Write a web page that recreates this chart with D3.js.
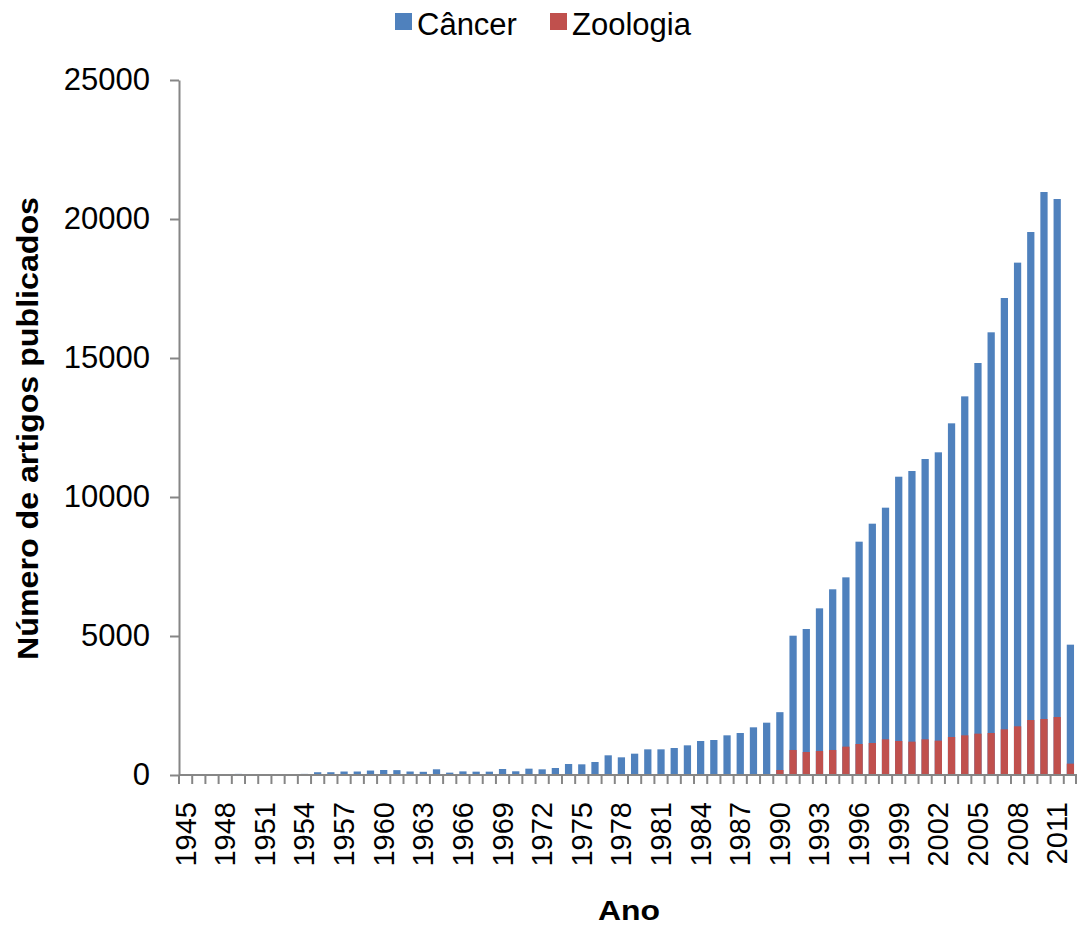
<!DOCTYPE html>
<html>
<head>
<meta charset="utf-8">
<script src="https://cdn.jsdelivr.net/npm/d3@7"></script>
<style>
  body { margin: 0; background: #fff; }
  text { font-family: "Liberation Sans", Arial, sans-serif; fill: #000; }
</style>
</head>
<body>
<script>
const width = 1077;
const height = 927;

const years = d3.range(1945, 2013);
const cancer = [
  0, 0, 0, 0, 40, 0, 30, 30, 30, 40,
  100, 100, 125, 125, 160, 180, 175, 125, 115, 205,
  85, 130, 120, 120, 216, 133, 228, 204, 252, 396,
  384, 468, 708, 636, 767, 923, 923, 971, 1067, 1223,
  1259, 1427, 1511, 1715, 1882, 2260, 5011, 5252, 5995, 6680,
  7110, 8393, 9040, 9616, 10730, 10935, 11367, 11607, 12650, 13620,
  14820, 15924, 17158, 18430, 19532, 20971, 20719, 4688
];
const zoologia = [
  0, 0, 0, 0, 0, 0, 0, 0, 0, 0,
  0, 0, 0, 0, 0, 0, 0, 0, 0, 0,
  0, 0, 0, 0, 0, 0, 0, 0, 0, 0,
  0, 0, 30, 30, 30, 30, 30, 30, 30, 30,
  30, 30, 30, 30, 30, 180, 900, 827, 863, 900,
  1020, 1115, 1151, 1283, 1223, 1199, 1283, 1235, 1367, 1427,
  1487, 1511, 1643, 1751, 1978, 2014, 2086, 408
];
const yTicks = [0, 5000, 10000, 15000, 20000, 25000];
const seriesNames = ['Câncer', 'Zoologia'];
const colors = ['#4F81BD', '#C0504D'];

const margin = { top: 80, right: 0, bottom: 152, left: 179 };

const svg = d3.select('body').append('svg')
  .attr('width', width)
  .attr('height', height);

const x = d3.scaleBand()
  .domain(years)
  .range([margin.left, width - margin.right])
  .paddingInner(0.45)
  .paddingOuter(0.225);

const xb = d3.scaleBand()
  .domain(years)
  .range([margin.left, width - margin.right]);

const y = d3.scaleLinear()
  .domain([0, 25000])
  .range([height - margin.bottom, margin.top]);

// bars: blue first, red drawn over it
[cancer, zoologia].forEach((vals, k) => {
  svg.append('g')
    .selectAll('rect')
    .data(years.map((yr, i) => ({ yr, v: vals[i] })))
    .enter().append('rect')
      .attr('x', d => x(d.yr))
      .attr('width', x.bandwidth())
      .attr('y', d => y(d.v))
      .attr('height', d => y(0) - y(d.v))
      .attr('fill', colors[k]);
});

// y axis
const yAxis = svg.append('g')
  .attr('transform', `translate(${margin.left},0)`)
  .call(d3.axisLeft(y).tickValues(yTicks).tickFormat(d3.format('d'))
    .tickSize(9).tickPadding(20).tickSizeOuter(0));
yAxis.select('.domain').attr('stroke', '#868686').attr('stroke-width', 2);
yAxis.selectAll('.tick line').attr('stroke', '#868686').attr('stroke-width', 2);
yAxis.selectAll('.tick text')
  .style('font-size', '31px')
  .style('font-family', '"Liberation Sans", Arial, sans-serif')
  .attr('fill', '#000');

// x axis line
svg.append('line')
  .attr('x1', margin.left).attr('x2', width)
  .attr('y1', y(0)).attr('y2', y(0))
  .attr('stroke', '#868686').attr('stroke-width', 2);

// x ticks between categories
svg.append('g')
  .selectAll('line')
  .data(years.concat([2013]))
  .enter().append('line')
    .attr('x1', d => d === 2013 ? width - 1 : xb(d))
    .attr('x2', d => d === 2013 ? width - 1 : xb(d))
    .attr('y1', y(0))
    .attr('y2', y(0) + 9)
    .attr('stroke', '#868686')
    .attr('stroke-width', 2);

// x labels every 3 years, rotated
svg.append('g')
  .selectAll('text')
  .data(years.filter(d => (d - 1945) % 3 === 0))
  .enter().append('text')
    .attr('transform', d => `translate(${xb(d) + xb.bandwidth() / 2 + 10},${y(0) + 27}) rotate(-90)`)
    .attr('text-anchor', 'end')
    .style('font-size', '29px')
    .text(d => d);

// axis titles
svg.append('text')
  .attr('x', 598)
  .attr('y', 920)
  .attr('textLength', 62)
  .attr('lengthAdjust', 'spacingAndGlyphs')
  .style('font-size', '28px')
  .style('font-weight', 'bold')
  .text('Ano');

svg.append('text')
  .attr('transform', 'translate(38,660) rotate(-90)')
  .attr('textLength', 463)
  .attr('lengthAdjust', 'spacingAndGlyphs')
  .style('font-size', '29px')
  .style('font-weight', 'bold')
  .text('Número de artigos publicados');

// legend
const legend = svg.append('g');
const legendX = [395, 550];
seriesNames.forEach((name, k) => {
  legend.append('rect')
    .attr('x', legendX[k]).attr('y', 13)
    .attr('width', 17).attr('height', 17)
    .attr('fill', colors[k]);
  legend.append('text')
    .attr('x', legendX[k] + 22)
    .attr('y', 35)
    .style('font-size', '31px')
    .text(name);
});
</script>
</body>
</html>
